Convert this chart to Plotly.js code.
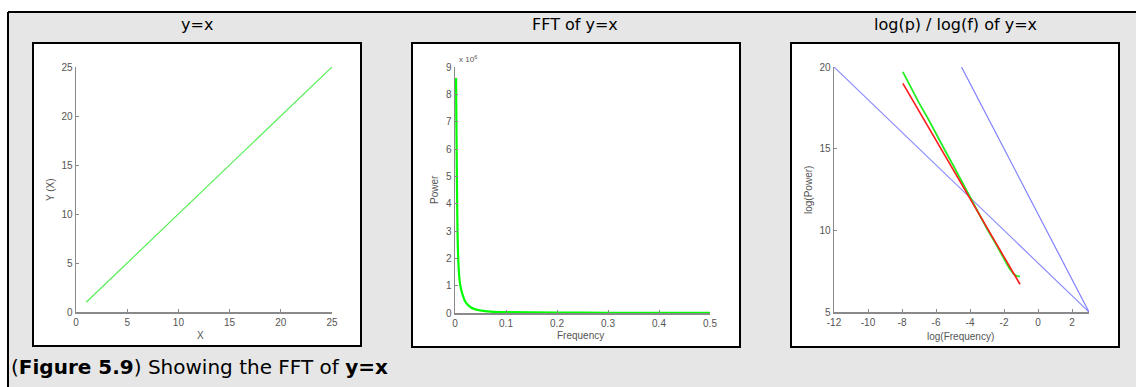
<!DOCTYPE html>
<html>
<head>
<meta charset="utf-8">
<script src="https://cdn.plot.ly/plotly-3.0.1.min.js"></script>
<style>
  html, body { margin: 0; padding: 0; background: #ffffff; }
  #fig { width: 1136px; height: 387px; }
</style>
</head>
<body>
<div id="fig"></div>
<script>
// ---- Panel 1: y = x ----
const lineX = [1, 25];
const lineY = [1, 25];

// ---- Panel 2: power spectrum (power in units of 10^6) ----
const freq = [0.002, 0.003, 0.004, 0.005, 0.007, 0.009, 0.011, 0.014, 0.017, 0.020,
              0.025, 0.030, 0.036, 0.045, 0.055, 0.070, 0.100, 0.200, 0.300, 0.400, 0.500];
const power = [8.6, 6.4, 4.4, 2.9, 1.7, 1.2, 0.95, 0.72, 0.55, 0.42,
               0.30, 0.22, 0.16, 0.11, 0.08, 0.05, 0.03, 0.015, 0.01, 0.008, 0.007];

// ---- Panel 3: log(power) against log(frequency) ----
const logF = [-7.95, -7.5, -7, -6.5, -6, -5.5, -5, -4.5, -4, -3.5, -3, -2.5, -2, -1.7, -1.45, -1.25, -1.06];
const logP = [19.7, 18.8, 17.8, 16.9, 15.9, 14.95, 14.0, 13.0, 12.06, 11.1, 10.1, 9.2, 8.25, 7.7, 7.35, 7.2, 7.18];
const fitX = [-7.95, -1.06];
const fitY = [19.0, 6.7];
const refAX = [-12, 3];
const refAY = [20, 5];
const refBX = [-4.5, 3];
const refBY = [20, 5];
const logFTicks = [-12, -10, -8, -6, -4, -2, 0, 2];

const W = 1136, H = 387;
const px = v => v / W;
const py = v => 1 - v / H;

const tickFont = { family: 'Liberation Sans, Arial, sans-serif', size: 10, color: '#555555' };
const axisLine = '#8a8a8a';

function axis(domain, range, dtick, anchor, extra) {
  return Object.assign({
    domain: domain, range: range, dtick: dtick, tick0: range[0], anchor: anchor,
    showline: true, linecolor: axisLine, linewidth: 1.5,
    ticks: 'inside', ticklen: 3, tickcolor: axisLine, tickwidth: 1,
    showgrid: false, zeroline: false, tickfont: tickFont, fixedrange: true
  }, extra || {});
}

const traces = [
  { x: lineX, y: lineY, xaxis: 'x', yaxis: 'y', mode: 'lines',
    line: { color: '#55ee55', width: 1.2 }, hoverinfo: 'skip' },
  { x: freq, y: power, xaxis: 'x2', yaxis: 'y2', mode: 'lines',
    line: { color: '#00ff00', width: 2.2, shape: 'spline', smoothing: 0.6 }, hoverinfo: 'skip' },
  { x: refAX, y: refAY, xaxis: 'x3', yaxis: 'y3', mode: 'lines',
    line: { color: '#8c8cff', width: 1.2 }, hoverinfo: 'skip' },
  { x: refBX, y: refBY, xaxis: 'x3', yaxis: 'y3', mode: 'lines',
    line: { color: '#8080ff', width: 1.2 }, hoverinfo: 'skip' },
  { x: logF, y: logP, xaxis: 'x3', yaxis: 'y3', mode: 'lines',
    line: { color: '#22ee22', width: 1.8 }, hoverinfo: 'skip' },
  { x: fitX, y: fitY, xaxis: 'x3', yaxis: 'y3', mode: 'lines',
    line: { color: '#ff1a1a', width: 1.6 }, hoverinfo: 'skip' }
];

const yDom = [py(312), py(67)];

const titleFont = { family: 'DejaVu Sans, Verdana, sans-serif', size: 16, color: '#000000' };
const labelFont = { family: 'Liberation Sans, Arial, sans-serif', size: 10, color: '#555555' };

function note(x, y, text, font, extra) {
  return Object.assign({ xref: 'paper', yref: 'paper', x: px(x), y: py(y), text: text,
    showarrow: false, font: font, xanchor: 'center', yanchor: 'middle' }, extra || {});
}

function panel(x0, x1, y0, y1) {
  return { type: 'rect', xref: 'paper', yref: 'paper', x0: px(x0), x1: px(x1), y0: py(y1), y1: py(y0),
    fillcolor: '#ffffff', line: { color: '#000000', width: 2 }, layer: 'below' };
}

const layout = {
  width: W, height: H,
  margin: { l: 0, r: 0, t: 0, b: 0, pad: 0 },
  paper_bgcolor: '#ffffff',
  plot_bgcolor: 'rgba(0,0,0,0)',
  showlegend: false,
  xaxis:  axis([px(76), px(332)], [0, 25], 5, 'y'),
  yaxis:  axis(yDom, [0, 25], 5, 'x'),
  xaxis2: axis([px(455), px(710)], [0, 0.5], 0.1, 'y2'),
  yaxis2: axis([py(313), py(67)], [0, 9], 1, 'x2'),
  xaxis3: axis([px(834), px(1089)], [-12, 3], 2, 'y3',
    { tickmode: 'array', tickvals: logFTicks, ticktext: logFTicks.map(String) }),
  yaxis3: axis(yDom, [5, 20], 5, 'x3'),
  shapes: [
    // outer grey frame: fill, then top and left border lines
    { type: 'rect', xref: 'paper', yref: 'paper', x0: px(8), x1: 1, y0: 0, y1: py(12),
      fillcolor: '#e6e6e6', line: { width: 0 }, layer: 'below' },
    { type: 'line', xref: 'paper', yref: 'paper', x0: px(8), x1: 1, y0: py(12), y1: py(12),
      line: { color: '#000000', width: 2 }, layer: 'below' },
    { type: 'line', xref: 'paper', yref: 'paper', x0: px(8), x1: px(8), y0: 0, y1: py(12),
      line: { color: '#000000', width: 2 }, layer: 'below' },
    // white panels
    panel(33, 361, 43, 346),
    panel(412, 740, 43, 347),
    panel(791, 1119, 43, 347)
  ],
  annotations: [
    note(197, 25, 'y=x', titleFont),
    note(575, 25, 'FFT of y=x', titleFont),
    note(955, 25, 'log(p) / log(f) of y=x', titleFont),
    note(201, 335, 'X', labelFont),
    note(50, 190, 'Y (X)', labelFont, { textangle: -90 }),
    note(580, 335, 'Frequency', labelFont),
    note(434, 190, 'Power', labelFont, { textangle: -90 }),
    note(960, 336, 'log(Frequency)', labelFont),
    note(808, 190, 'log(Power)', labelFont, { textangle: -90 }),
    note(457, 59, 'x 10<sup>6</sup>', { family: 'Liberation Sans, Arial, sans-serif', size: 8, color: '#555555' }, { xanchor: 'left' }),
    note(9, 367, '(<b>Figure 5.9</b>) Showing the FFT of <b>y=x</b>',
      { family: 'DejaVu Sans, Verdana, sans-serif', size: 20, color: '#000000' }, { xanchor: 'left' })
  ]
};

Plotly.newPlot('fig', traces, layout, { displayModeBar: false, staticPlot: true });
</script>
</body>
</html>
